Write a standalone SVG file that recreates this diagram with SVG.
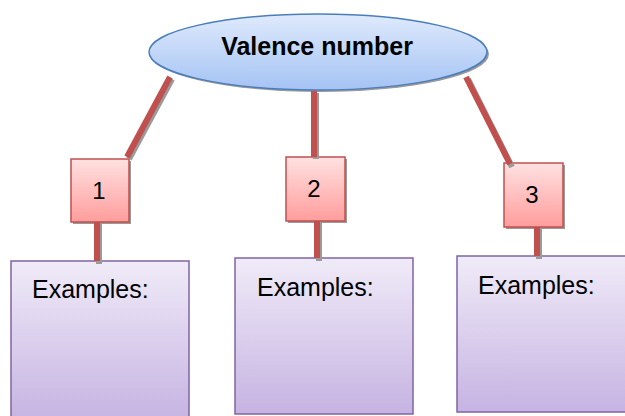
<svg xmlns="http://www.w3.org/2000/svg" width="625" height="416" viewBox="0 0 625 416">
<defs>
<linearGradient id="gBlue" x1="0" y1="0" x2="0" y2="1"><stop offset="0" stop-color="#dfeafc"/><stop offset="1" stop-color="#a5c3f4"/></linearGradient>
<linearGradient id="gPink" x1="0" y1="0" x2="0" y2="1"><stop offset="0" stop-color="#ffe1e1"/><stop offset="1" stop-color="#ff9d9c"/></linearGradient>
<linearGradient id="gPurple" x1="0" y1="0" x2="0" y2="1"><stop offset="0" stop-color="#f0ebf8"/><stop offset="1" stop-color="#c6b3e2"/></linearGradient>
</defs>
<style>
.shadow{fill:#9a9a9a;}
.ell{fill:url(#gBlue);stroke:#4a7ebb;stroke-width:1.5;}
.num{fill:url(#gPink);stroke:#c0504d;stroke-width:1.5;}
.ex{fill:url(#gPurple);stroke:#8064a2;stroke-width:1.5;}
.t{font-family:"Liberation Sans",Arial,sans-serif;fill:#000;}
.conn{stroke:#c0504d;stroke-width:6;fill:none;}
.connS{stroke:#9a9a9a;stroke-width:6;fill:none;}
</style>
<g id="examples1">
<rect x="11" y="261" width="178" height="160" class="ex"/>
<text x="32" y="298" class="t" font-size="25">Examples:</text>
</g>
<g id="examples2">
<rect x="235" y="258" width="178" height="156" class="ex"/>
<text x="257" y="296" class="t" font-size="25">Examples:</text>
</g>
<g id="examples3">
<rect x="457" y="256" width="175" height="156" class="ex"/>
<text x="478" y="294" class="t" font-size="25">Examples:</text>
</g>
<g id="valence">
<ellipse cx="320" cy="54" rx="169" ry="38" class="shadow"/>
<ellipse cx="318" cy="52" rx="169" ry="38" class="ell"/>
<text x="317" y="55" class="t" font-size="25" font-weight="bold" text-anchor="middle">Valence number</text>
</g>
<g id="n1">
<rect x="73" y="161" width="58" height="63" class="shadow"/>
<rect x="71" y="159" width="58" height="63" class="num"/>
<text x="99" y="199" class="t" font-size="24" text-anchor="middle">1</text>
</g>
<g id="n2">
<rect x="288" y="159" width="59" height="64" class="shadow"/>
<rect x="286" y="157" width="59" height="64" class="num"/>
<text x="314" y="197" class="t" font-size="24" text-anchor="middle">2</text>
</g>
<g id="n3">
<rect x="506" y="165" width="59" height="64" class="shadow"/>
<rect x="504" y="163" width="59" height="64" class="num"/>
<text x="532" y="203" class="t" font-size="24" text-anchor="middle">3</text>
</g>
<g id="connectors">
<line x1="172" y1="79" x2="129" y2="159" class="connS"/>
<line x1="170" y1="77" x2="127" y2="157" class="conn"/>
<line x1="316" y1="93" x2="316" y2="159" class="connS"/>
<line x1="314" y1="91" x2="314" y2="157" class="conn"/>
<line x1="468" y1="79" x2="512" y2="167" class="connS"/>
<line x1="466" y1="77" x2="510" y2="164" class="conn"/>
<line x1="99" y1="224" x2="99" y2="264" class="connS"/>
<line x1="97" y1="222" x2="97" y2="261" class="conn"/>
<line x1="319" y1="223" x2="319" y2="261" class="connS"/>
<line x1="317" y1="221" x2="317" y2="258" class="conn"/>
<line x1="539" y1="229" x2="539" y2="259" class="connS"/>
<line x1="537" y1="227" x2="537" y2="256" class="conn"/>
</g>
</svg>
